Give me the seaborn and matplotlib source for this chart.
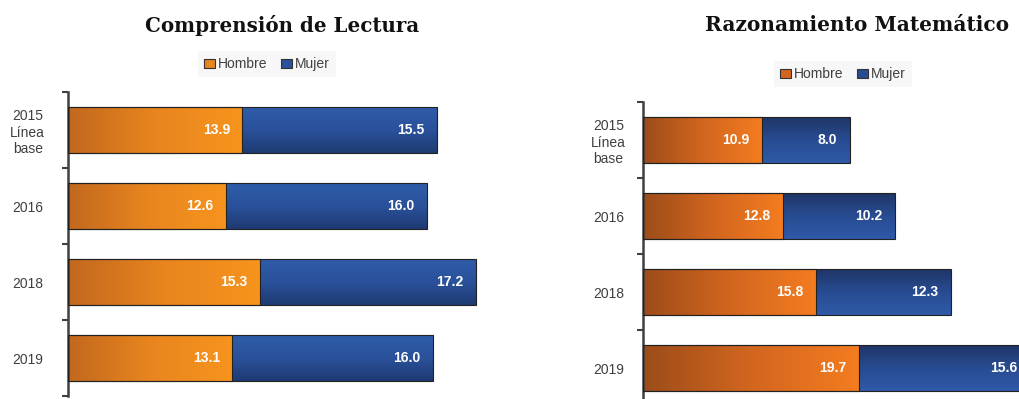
import numpy as np
import pandas as pd
import matplotlib
matplotlib.use("Agg")
import matplotlib.pyplot as plt
import seaborn as sns
from matplotlib.patches import Patch
from matplotlib.colors import LinearSegmentedColormap

# ---- data ----
years = ["2015\nLínea\nbase", "2016", "2018", "2019"]
lect_hombre = [13.9, 12.6, 15.3, 13.1]
lect_mujer = [15.5, 16.0, 17.2, 16.0]
mat_hombre = [10.9, 12.8, 15.8, 19.7]
mat_mujer = [8.0, 10.2, 12.3, 15.6]
titles = ["Comprensión de Lectura", "Razonamiento Matemático"]
series = ["Hombre", "Mujer"]

sns.set_theme(style="white")
plt.rcParams['font.family'] = ['Liberation Sans', 'DejaVu Sans']

W, H = 1019, 399
fig = plt.figure(figsize=(W / 100, H / 100), dpi=100)

TXT = "#404040"

def px_ax(left, top, bottom, width):
    return fig.add_axes([left / W, (H - bottom) / H, width / W, (bottom - top) / H])

def gradient_fill(ax, patch, cmap, direction, z):
    x0, y0 = patch.get_x(), patch.get_y()
    w, h = patch.get_width(), patch.get_height()
    if direction == "h":
        arr = np.linspace(0, 1, 256).reshape(1, -1)
    else:
        arr = np.linspace(0, 1, 256).reshape(-1, 1)
    im = ax.imshow(arr, cmap=cmap, extent=(x0, x0 + w, y0 + h, y0),
                   aspect="auto", zorder=z, interpolation="bicubic")
    im.set_clip_path(patch)
    patch.set_facecolor("none")
    patch.set_zorder(3)

configs = [
    dict(h=lect_hombre, m=lect_mujer, left=68, top=92, bottom=396, width=470, scale=12.55,
         orange=LinearSegmentedColormap.from_list("o1", ["#C2681E", "#E8851F", "#F7941D"]),
         blue=LinearSegmentedColormap.from_list("b1", ["#2F5DAA", "#2A519A", "#1E3A72"]),
         title_x=282, legend_x=267, legend_y=64, pad=29, solid_o="#E8851F", solid_b="#2A519A",
         title_fs=14.3),
    dict(h=mat_hombre, m=mat_mujer, left=643, top=102, bottom=406, width=420, scale=10.95,
         orange=LinearSegmentedColormap.from_list("o2", ["#9C4C19", "#D2661F", "#F47C20"]),
         blue=LinearSegmentedColormap.from_list("b2", ["#1F3566", "#284C92", "#2E5AA8"]),
         title_x=857, legend_x=843, legend_y=74, pad=25, solid_o="#D2661F", solid_b="#284C92",
         title_fs=14.5),
]

for cfg, title in zip(configs, titles):
    ax = px_ax(cfg["left"], cfg["top"], cfg["bottom"], cfg["width"])
    df = pd.DataFrame({"year": years, "Hombre": cfg["h"], "Mujer": cfg["m"]})
    df["Total"] = df["Hombre"] + df["Mujer"]

    sns.barplot(data=df, y="year", x="Total", orient="h", color=cfg["solid_b"],
                width=0.6, edgecolor="#222222", linewidth=0.8, ax=ax)
    n_blue = len(ax.patches)
    sns.barplot(data=df, y="year", x="Hombre", orient="h", color=cfg["solid_o"],
                width=0.6, edgecolor="#222222", linewidth=0.8, ax=ax)
    patches = list(ax.patches)
    for p in patches[:n_blue]:
        gradient_fill(ax, p, cfg["blue"], "v", 2)
    for p in patches[n_blue:]:
        gradient_fill(ax, p, cfg["orange"], "h", 2.1)

    xmax = cfg["width"] / cfg["scale"]
    ax.set_xlim(0, xmax)
    ax.set_ylim(3.5, -0.5)

    for i, (hv, tv) in enumerate(zip(df["Hombre"], df["Total"])):
        ax.annotate(f"{hv:.1f}", (hv, i), xytext=(-9, 0), textcoords="offset points",
                    ha="right", va="center", color="white", fontsize=10,
                    fontweight="bold", zorder=5)
        ax.annotate(f"{df['Mujer'][i]:.1f}", (tv, i), xytext=(-9, 0), textcoords="offset points",
                    ha="right", va="center", color="white", fontsize=10,
                    fontweight="bold", zorder=5, annotation_clip=False)

    ax.set_xlabel("")
    ax.set_ylabel("")
    ax.set_xticks([])
    for s in ["top", "right", "bottom"]:
        ax.spines[s].set_visible(False)
    ax.spines["left"].set_color(TXT)
    ax.spines["left"].set_linewidth(1.8)
    ax.set_yticks(range(len(years)))
    ax.set_yticklabels(years, ha="center", multialignment="center")
    ax.set_yticks(np.arange(-0.5, len(years), 1.0), minor=True)
    ax.tick_params(axis="y", which="major", length=0, pad=cfg["pad"],
                   labelsize=10, labelcolor=TXT)
    ax.tick_params(axis="y", which="minor", length=4, width=1.5, color=TXT,
                   direction="out", left=True)
    ax.set_facecolor("none")

    fig.text(cfg["title_x"] / W, 1 - 25 / H, title, ha="center", va="center",
             fontsize=cfg["title_fs"], fontweight="bold", family="DejaVu Serif",
             color="#111111")

    handles = [Patch(facecolor=cfg["solid_o"], edgecolor="#333333", linewidth=0.8),
               Patch(facecolor=cfg["solid_b"], edgecolor="#333333", linewidth=0.8)]
    leg = fig.legend(handles, series, loc="center",
                     bbox_to_anchor=(cfg["legend_x"] / W, 1 - cfg["legend_y"] / H),
                     ncol=2, frameon=True, fontsize=10, handlelength=0.8,
                     handleheight=0.6, handletextpad=0.2, columnspacing=1.0,
                     borderpad=0.4, fancybox=False)
    leg.get_frame().set_facecolor("#F6F6F6")
    leg.get_frame().set_edgecolor("none")
    for t in leg.get_texts():
        t.set_color(TXT)

fig.savefig("out.png", dpi=100)
